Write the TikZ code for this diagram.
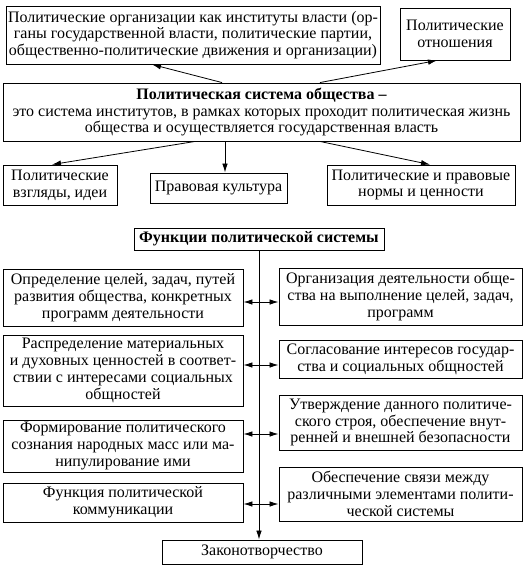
\documentclass[tikz,border=0pt]{standalone}
\usepackage{fontspec}
\setmainfont{Liberation Serif}
\usepackage{tikz}
\usetikzlibrary{arrows.meta}
\tikzset{%
  every box/.style={
    draw,
    line width=0.9pt,
    align=center,
    inner sep=1pt,
    font=\fontsize{16}{16.8}\selectfont
  },
  link/.style={
    line width=0.8pt,
    -{Latex[length=9pt,width=5.5pt]}
  },
  twoway/.style={
    line width=0.8pt,
    {Latex[length=9pt,width=5.5pt]}-{Latex[length=9pt,width=5.5pt]}
  },
}

\begin{document}
\begin{tikzpicture}[x=1pt, y=-1pt]
\useasboundingbox (0,0) rectangle (525,566);
    % upper part
    \node[every box, minimum width=374pt, minimum height=58pt] (org) at (193,35)
        {Политические организации как институты власти (ор-\\
         ганы государственной власти, политические партии,\\
         общественно-политические движения и организации)};
    \node[every box, minimum width=110pt, minimum height=52pt] (rel) at (455,34)
        {Политические\\ отношения};
    \node[every box, minimum width=517pt, minimum height=58pt] (sys) at (261.5,112)
        {\textbf{Политическая система общества –}\\
         это система институтов, в рамках которых проходит политическая жизнь\\
         общества и осуществляется государственная власть};
    \node[every box, minimum width=114pt, minimum height=40pt] (views) at (60,185)
        {Политические\\ взгляды, идеи};
    \node[every box, minimum width=137pt, minimum height=30pt] (law) at (218.5,188)
        {Правовая культура};
    \node[every box, minimum width=188pt, minimum height=40pt] (norms) at (421,185)
        {Политические и правовые\\ нормы и ценности};

    \draw[link] ([xshift=-39.5pt]sys.north) -- ([xshift=-41pt]org.south);
    \draw[link] ([xshift=58.5pt]sys.north) -- ([xshift=-18pt]rel.south);
    \draw[link] ([xshift=-66.5pt]sys.south) -- ([xshift=-8pt]views.north);
    \draw[link] ([xshift=-36.5pt]sys.south) -- ([xshift=6.5pt]law.north);
    \draw[link] ([xshift=58.5pt]sys.south) -- ([xshift=9pt]norms.north);

    % functions
    \node[every box, minimum width=250pt, minimum height=22pt] (func) at (259,239)
        {\textbf{Функции политической системы}};
    \node[every box, minimum width=200pt, minimum height=24pt] (zak) at (262,552)
        {Законотворчество};

    \node[every box, minimum width=240pt, minimum height=57pt] (L1) at (123,297.5)
        {Определение целей, задач, путей\\ развития общества, конкретных\\ программ деятельности};
    \node[every box, minimum width=240pt, minimum height=71pt] (L2) at (123,370.5)
        {Распределение материальных\\ и духовных ценностей в соответ-\\ ствии с интересами социальных\\ общностей};
    \node[every box, minimum width=240pt, minimum height=52pt] (L3) at (123,446)
        {Формирование политического\\ сознания народных масс или ма-\\ нипулирование ими};
    \node[every box, minimum width=240pt, minimum height=39pt] (L4) at (123,502.5)
        {Функция политической\\ коммуникации};

    \node[every box, minimum width=243pt, minimum height=57pt] (R1) at (400.5,296.5)
        {Организация деятельности обще-\\ ства на выполнение целей, задач,\\ программ};
    \node[every box, minimum width=243pt, minimum height=38pt] (R2) at (400.5,359)
        {Согласование интересов государ-\\ ства и социальных общностей};
    \node[every box, minimum width=243pt, minimum height=55pt] (R3) at (400.5,422.5)
        {Утверждение данного политиче-\\ ского строя, обеспечение внут-\\ ренней и внешней безопасности};
    \node[every box, minimum width=243pt, minimum height=54pt] (R4) at (400.5,494)
        {Обеспечение связи между\\ различными элементами полити-\\ ческой системы};

    \draw[link] (func.south) -- (func.south |- zak.north);

    \draw[twoway] ([yshift=-4.5pt]L1.east) -- ([yshift=-4.5pt]L1.east -| R1.west);
    \draw[twoway] ([yshift=5.5pt]L2.east) -- ([yshift=5.5pt]L2.east -| R2.west);
    \draw[twoway] ([yshift=12pt]L3.east) -- ([yshift=12pt]L3.east -| R3.west);
    \draw[twoway] ([yshift=-1.5pt]L4.east) -- ([yshift=-1.5pt]L4.east -| R4.west);
\end{tikzpicture}
\end{document}
